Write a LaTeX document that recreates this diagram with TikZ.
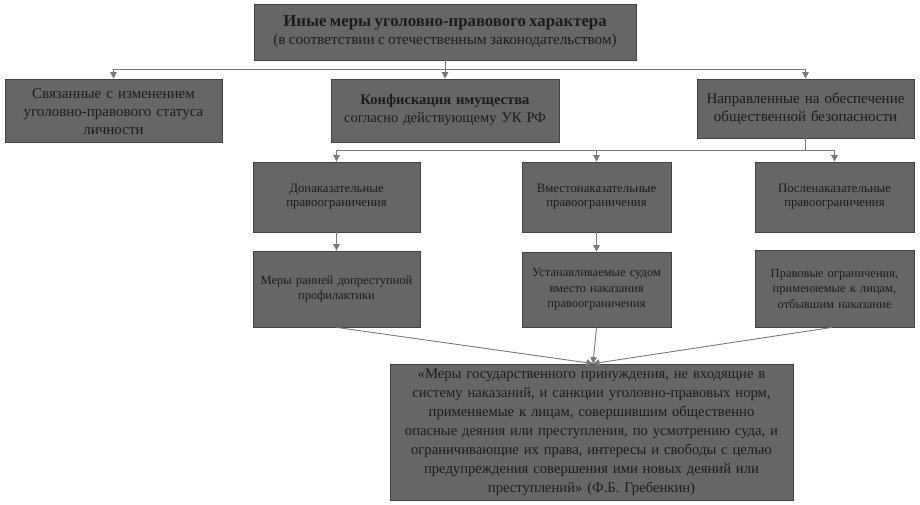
\documentclass[tikz,border=0pt]{standalone}
\usepackage{fontspec}
\setmainfont{Liberation Serif}
\usetikzlibrary{arrows.meta,calc}
\definecolor{boxfill}{HTML}{666666}
\definecolor{boxedge}{HTML}{444444}
\definecolor{txt}{HTML}{1C1C1C}
\definecolor{conn}{HTML}{7A7A7A}
\tikzset{
  box/.style={draw=boxedge, line width=0.8pt, fill=boxfill, text=txt, align=center, inner sep=2pt},
  fbig/.style={font=\fontsize{15}{18}\selectfont},
  fmid/.style={font=\fontsize{12.8}{14}\selectfont},
  fsm/.style={font=\fontsize{12.5}{15.5}\selectfont},
  fbot/.style={font=\fontsize{14.65}{19}\selectfont},
  link/.style={draw=conn, line width=0.9pt},
  arr/.style={link, -{Triangle[width=6.5pt,length=6.5pt]}},
}
\begin{document}
\begin{tikzpicture}[x=1pt,y=-1pt]
\useasboundingbox[fill=white] (0,0) rectangle (920,505);
% top
\node[box, minimum width=382pt, minimum height=56pt, text width=376pt] (top) at (445,32)
  {\rule{0pt}{6pt}\\[-8pt]{\fontsize{16.8}{19}\selectfont\bfseries Иные меры уголовно-правового характера}\\[3pt]
   {\fontsize{15.2}{17}\selectfont (в соответствии с отечественным законодательством)}};
% row 2
\node[box, minimum width=217pt, minimum height=63pt, text width=212pt, font=\fontsize{15}{18}\selectfont] (L) at (113.5,110.5)
  {\rule{0pt}{4pt}\\[-10pt]Связанные с изменением\\уголовно-правового статуса\\личности};
\node[box, minimum width=228pt, minimum height=63pt, text width=222pt, font=\fontsize{14.6}{18}\selectfont] (M) at (445,110.5)
  {\textbf{Конфискация имущества}\\согласно действующему УК РФ\\[10pt]};
\node[box, minimum width=217pt, minimum height=59pt, text width=212pt, font=\fontsize{15}{18}\selectfont] (R) at (805.5,108.5)
  {Направленные на обеспечение\\общественной безопасности\\[10pt]};
% row 3
\node[box, fmid, minimum width=167pt, minimum height=70pt, text width=162pt] (A) at (336.5,197)
  {Донаказательные\\правоограничения\\[5pt]};
\node[box, fmid, minimum width=149pt, minimum height=70pt, text width=145pt] (B) at (596.5,197)
  {Вместонаказательные\\правоограничения\\[5pt]};
\node[box, fmid, minimum width=159pt, minimum height=70pt, text width=155pt] (C) at (834.5,197)
  {Посленаказательные\\правоограничения\\[5pt]};
% row 4
\node[box, fsm, minimum width=167pt, minimum height=76pt, text width=162pt] (A2) at (336.5,289)
  {Меры ранней допреступной\\профилактики\\[13pt]};
\node[box, fsm, minimum width=149pt, minimum height=75pt, text width=145pt] (B2) at (596.5,289.5)
  {Устанавливаемые судом\\вместо наказания\\правоограничения\\[3pt]};
\node[box, fsm, minimum width=159pt, minimum height=77pt, text width=155pt] (C2) at (834.5,288.5)
  {Правовые ограничения,\\применяемые к лицам,\\отбывшим наказание\\[10pt]};
% bottom
\node[box, fbot, minimum width=403pt, minimum height=136pt, text width=398pt] (bot) at (591.5,432)
  {«Меры государственного принуждения, не входящие в\\
   систему наказаний, и санкции уголовно-правовых норм,\\
   применяемые к лицам, совершившим общественно\\
   опасные деяния или преступления, по усмотрению суда, и\\
   ограничивающие их права, интересы и свободы с целью\\
   предупреждения совершения ими новых деяний или\\
   преступлений» (Ф.Б. Гребенкин)\\[2pt]};
% connectors top -> row 2
\coordinate (j1) at ($(top.south)+(0,9)$);
\draw[link] (top.south) -- (j1);
\draw[arr] (j1) -| (L.north);
\draw[arr] (j1) -| (R.north);
\draw[arr] (j1) -- (M.north);
% R -> row 3
\coordinate (j2) at ($(R.south)+(0,12)$);
\draw[link] (R.south) -- (j2);
\draw[arr] (j2) -| (A.north);
\draw[arr] (j2) -| (B.north);
\draw[arr] (j2) -| (C.north);
% row 3 -> row 4
\draw[arr] (A) -- (A2);
\draw[arr] (B) -- (B2);
% row 4 -> bottom
\coordinate (conv) at ($(bot.north)+(1.5,0)$);
\draw[arr] (A2.south) -- (conv);
\draw[arr] (B2.south) -- (conv);
\draw[arr] ($(C2.south)+(-2.5,0)$) -- (conv);
\end{tikzpicture}
\end{document}
